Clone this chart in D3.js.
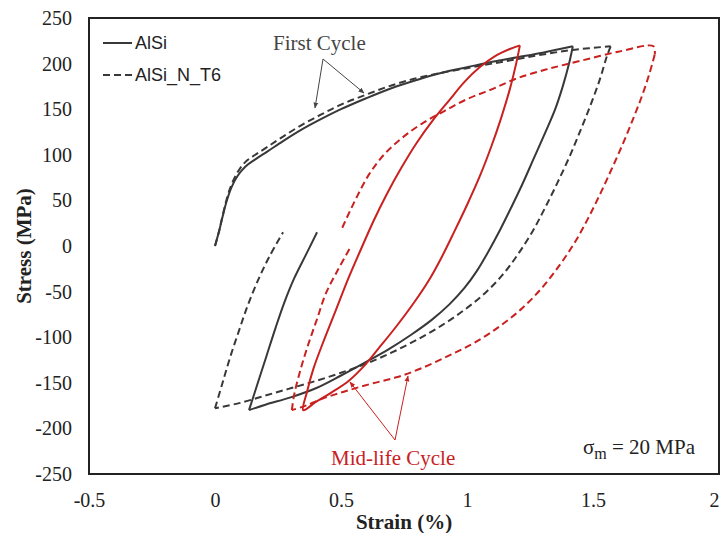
<!DOCTYPE html>
<html>
<head>
<meta charset="utf-8">
<script src="https://cdn.jsdelivr.net/npm/d3@7"></script>
<style>
  body { margin: 0; background: #fff; }
  svg text { font-family: "Liberation Serif", "Times New Roman", serif; }
</style>
</head>
<body>
<svg id="chart"></svg>
<script>
// hysteresis loops, [strain %, stress MPa]
const alsiFirst = [
  [0, 0], [0.015, 15], [0.03, 32], [0.045, 48], [0.065, 64], [0.09, 77], [0.12, 87],
  [0.16, 95], [0.21, 104], [0.27, 115], [0.34, 127], [0.42, 139], [0.5, 150], [0.6, 162],
  [0.7, 173], [0.8, 182], [0.9, 190], [1.0, 196], [1.1, 202], [1.2, 207], [1.3, 212], [1.42, 219],
  [1.405, 200], [1.38, 175], [1.35, 150], [1.31, 124], [1.265, 96], [1.22, 68], [1.175, 42],
  [1.13, 17], [1.085, -6], [1.04, -27], [0.99, -46], [0.93, -64], [0.86, -81], [0.78, -97],
  [0.69, -113], [0.6, -127], [0.5, -142], [0.4, -156], [0.3, -166], [0.2, -174], [0.135, -180],
  [0.17, -150], [0.205, -120], [0.24, -90], [0.275, -62], [0.315, -35], [0.36, -10], [0.405, 15]
]
const t6First = [
  [0, 0], [0.015, 15], [0.03, 33], [0.045, 50], [0.065, 67], [0.09, 81], [0.12, 92],
  [0.16, 100], [0.21, 109], [0.27, 120], [0.34, 132], [0.42, 144], [0.5, 155], [0.6, 166],
  [0.7, 176], [0.8, 184], [0.9, 190], [1.0, 195], [1.1, 200], [1.2, 205], [1.3, 210],
  [1.42, 215], [1.57, 219],
  [1.555, 208], [1.53, 185], [1.495, 158], [1.455, 130], [1.41, 100], [1.36, 70], [1.31, 42],
  [1.26, 16], [1.2, -10], [1.14, -32], [1.07, -52], [0.99, -70], [0.9, -87], [0.8, -103],
  [0.7, -117], [0.6, -129], [0.5, -139], [0.4, -148], [0.3, -156], [0.2, -164], [0.1, -172],
  [0, -178],
  [0.03, -150], [0.06, -122], [0.095, -93], [0.13, -65], [0.17, -38], [0.215, -12], [0.27, 15]
]
const alsiMid = [
  [1.21, 220], [1.195, 200], [1.17, 172], [1.135, 140], [1.095, 108], [1.05, 76], [1.0, 45],
  [0.95, 16], [0.9, -12], [0.85, -37], [0.79, -62], [0.72, -88], [0.65, -112], [0.59, -132],
  [0.53, -148], [0.46, -161], [0.4, -171], [0.35, -180],
  [0.365, -160], [0.39, -135], [0.43, -105], [0.48, -70], [0.53, -35], [0.58, -3], [0.63, 28],
  [0.68, 56], [0.74, 86], [0.8, 113], [0.865, 138], [0.93, 160], [0.99, 180], [1.05, 196],
  [1.11, 208], [1.17, 216], [1.21, 220]
]
const t6Mid = [
  [0.505, 20], [0.535, 38], [0.565, 55], [0.61, 78], [0.67, 100], [0.74, 118], [0.82, 134],
  [0.91, 148], [1.0, 161], [1.1, 172], [1.2, 184], [1.32, 194], [1.45, 203], [1.6, 213],
  [1.74, 219],
  [1.745, 210], [1.725, 190], [1.695, 165], [1.66, 140], [1.62, 113], [1.575, 85], [1.53, 58],
  [1.48, 30], [1.43, 5], [1.37, -20], [1.3, -45], [1.22, -68], [1.13, -88], [1.03, -106],
  [0.93, -120], [0.82, -134], [0.72, -144], [0.62, -151], [0.52, -159], [0.43, -167],
  [0.36, -175], [0.305, -180],
  [0.315, -162], [0.34, -135], [0.37, -108], [0.405, -80], [0.44, -52], [0.49, -25], [0.536, -2]
]

const xTicks = [-0.5, 0, 0.5, 1, 1.5, 2]
const yTicks = [-250, -200, -150, -100, -50, 0, 50, 100, 150, 200, 250]
const legendLabels = ['AlSi', 'AlSi_N_T6']

const width = 721
const height = 533
const margin = { left: 89, right: 2, top: 18, bottom: 59 }

const svg = d3.select('svg#chart').attr('width', width).attr('height', height)

const xScale = d3.scaleLinear().domain([-0.5, 2]).range([margin.left, width - margin.right])
const yScale = d3.scaleLinear().domain([-250, 250]).range([height - margin.bottom, margin.top])

const black = '#383838'
const red = '#c8211f'

// axes (labels only, no tick marks)
const axisY = svg.append('g')
  .attr('transform', 'translate(' + margin.left + ',0)')
  .call(d3.axisLeft(yScale).tickValues(yTicks).tickSize(0).tickPadding(17).tickFormat(d => String(d)))
axisY.select('.domain').remove()
axisY.selectAll('text').style('font-size', '20px').style('font-family', '"Liberation Serif", serif').attr('fill', '#222')

const axisX = svg.append('g')
  .attr('transform', 'translate(0,' + (height - margin.bottom) + ')')
  .call(d3.axisBottom(xScale).tickValues(xTicks).tickSize(0).tickPadding(19).tickFormat(d => String(d)))
axisX.select('.domain').remove()
axisX.selectAll('text').style('font-size', '20px').style('font-family', '"Liberation Serif", serif').attr('fill', '#222')
// the last label sits on the right edge, keep it inside the window
axisX.selectAll('text').filter(d => d === 2).attr('text-anchor', 'end')

// plot frame
svg.append('rect')
  .attr('x', margin.left).attr('y', margin.top)
  .attr('width', width - margin.right - margin.left)
  .attr('height', height - margin.bottom - margin.top)
  .attr('fill', 'none').attr('stroke', '#222').attr('stroke-width', 2)

// axis titles
svg.append('text')
  .attr('transform', 'translate(31,' + ((margin.top + height - margin.bottom) / 2) + ') rotate(-90)')
  .attr('text-anchor', 'middle')
  .style('font-size', '21px').style('font-weight', 'bold').attr('fill', '#222')
  .text('Stress (MPa)')
svg.append('text')
  .attr('x', (margin.left + width - margin.right) / 2).attr('y', 529)
  .attr('text-anchor', 'middle')
  .style('font-size', '21px').style('font-weight', 'bold').attr('fill', '#222')
  .text('Strain (%)')

// curves
const line = d3.line()
  .x(d => xScale(d[0]))
  .y(d => yScale(d[1]))
  .curve(d3.curveCatmullRom.alpha(0.5))

// cut a loop into branches where the strain turns round, so the corners stay sharp
function branches(pts) {
  const out = []
  let cur = [pts[0]]
  let dir = 0
  for (let i = 1; i < pts.length; i++) {
    const d = Math.sign(pts[i][0] - pts[i - 1][0])
    if (dir !== 0 && d !== 0 && d !== dir) {
      out.push(cur)
      cur = [pts[i - 1]]
    }
    if (d !== 0) dir = d
    cur.push(pts[i])
  }
  out.push(cur)
  return out
}

const curves = [
  { data: alsiFirst, color: black, dash: null, split: true },
  { data: t6First, color: black, dash: '7,4', split: true },
  { data: alsiMid, color: red, dash: null, split: false },
  { data: t6Mid, color: red, dash: '7,4', split: true }
]
const pieces = curves.flatMap(c => (c.split ? branches(c.data) : [c.data]).map(p => ({ pts: p, color: c.color, dash: c.dash })))

svg.append('g').selectAll('path').data(pieces)
  .enter().append('path')
  .attr('d', d => line(d.pts))
  .attr('fill', 'none')
  .attr('stroke', d => d.color)
  .attr('stroke-width', 2)
  .attr('stroke-linejoin', 'round')
  .attr('stroke-dasharray', d => d.dash)

// legend
const legend = svg.append('g')
legendLabels.forEach((lab, i) => {
  const yy = 43 + i * 32
  legend.append('line')
    .attr('x1', 103).attr('x2', 132).attr('y1', yy).attr('y2', yy)
    .attr('stroke', black).attr('stroke-width', 2)
    .attr('stroke-dasharray', i === 1 ? '7,4' : null)
  legend.append('text')
    .attr('x', 135).attr('y', yy).attr('dy', '0.35em')
    .style('font-family', '"Liberation Sans", Arial, sans-serif').style('font-size', '18px')
    .attr('fill', '#222')
    .text(lab)
})

// annotation arrows
const defs = svg.append('defs')
function addMarker(id, color) {
  defs.append('marker')
    .attr('id', id).attr('viewBox', '0 0 10 10')
    .attr('refX', 9).attr('refY', 5)
    .attr('markerWidth', 6).attr('markerHeight', 6)
    .attr('orient', 'auto')
    .append('path').attr('d', 'M0,1 L10,5 L0,9 Z').attr('fill', color)
}
addMarker('headGray', '#444')
addMarker('headRed', red)

function arrow(x1, y1, x2, y2, color, marker) {
  svg.append('line')
    .attr('x1', x1).attr('y1', y1).attr('x2', x2).attr('y2', y2)
    .attr('stroke', color).attr('stroke-width', 1)
    .attr('marker-end', 'url(#' + marker + ')')
}

svg.append('text').attr('x', 273).attr('y', 50)
  .style('font-size', '21px').attr('fill', '#444')
  .text('First Cycle')
arrow(323, 59, 315, 108, '#444', 'headGray')
arrow(323, 59, 364, 93, '#444', 'headGray')

svg.append('text').attr('x', 331).attr('y', 465)
  .style('font-size', '21px').attr('fill', red)
  .text('Mid-life Cycle')
arrow(395, 440, 350, 382, red, 'headRed')
arrow(395, 440, 408, 376, red, 'headRed')

// mean stress label
const sig = svg.append('text').attr('x', 583).attr('y', 454)
  .style('font-size', '21px').attr('fill', '#222')
sig.append('tspan').text('σ')
sig.append('tspan').attr('dy', 5).style('font-size', '16px').text('m')
sig.append('tspan').attr('dy', -5).text(' = 20 MPa')
</script>
</body>
</html>
